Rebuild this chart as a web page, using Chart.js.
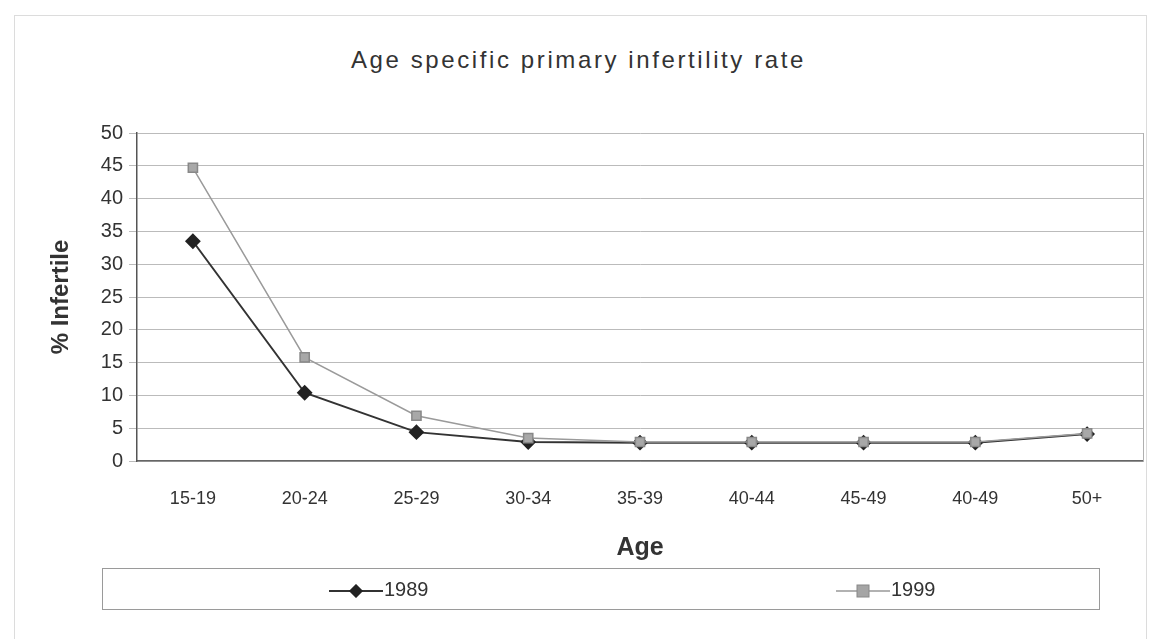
<!DOCTYPE html>
<html>
<head>
<meta charset="utf-8">
<script src="https://cdn.jsdelivr.net/npm/chart.js@4.4.1/dist/chart.umd.min.js"></script>
<style>
  html,body{margin:0;padding:0;background:#fff;}
  body{width:1157px;height:639px;position:relative;overflow:hidden;font-family:"Liberation Sans",Arial,sans-serif;}
  #wrap{position:absolute;left:0;top:0;width:1157px;height:639px;}
  #frame{position:absolute;left:14px;top:15px;width:1131px;height:640px;border:1px solid #dcdcdc;}
  #title{position:absolute;left:0;top:46px;width:1157px;text-align:center;font-size:24px;letter-spacing:2.6px;color:#333;}
  #legend{position:absolute;left:102px;top:568px;width:996px;height:40px;border:1px solid #9a9a9a;}
  .item{position:absolute;top:9px;font-size:20px;color:#333;line-height:22px;}
  .item svg{vertical-align:-2px;margin-right:1px;}
</style>
</head>
<body>
<div id="frame"></div>
<div id="title">Age specific primary infertility rate</div>
<div id="wrap"><canvas id="chart" width="1157" height="639"></canvas></div>
<div id="legend">
  <span class="item" style="left:226px;"><svg width="54" height="14"><line x1="0" y1="7" x2="54" y2="7" stroke="#333" stroke-width="2"/><rect x="22" y="2" width="10" height="10" fill="#222" transform="rotate(45 27 7)"/></svg>1989</span>
  <span class="item" style="left:733px;"><svg width="54" height="14"><line x1="0" y1="7" x2="54" y2="7" stroke="#999" stroke-width="1.5"/><rect x="21" y="1" width="12" height="12" fill="#a5a5a5" stroke="#888"/></svg>1999</span>
</div>
<script>
/* ===== Data ===== */
const ageGroups = ['15-19','20-24','25-29','30-34','35-39','40-44','45-49','40-49','50+'];
const rate1989 = [33.5, 10.4, 4.4, 2.9, 2.8, 2.8, 2.8, 2.8, 4.1];
const rate1999 = [44.7, 15.8, 6.9, 3.5, 2.9, 2.9, 2.9, 2.9, 4.2];
const yTicks = [0,5,10,15,20,25,30,35,40,45,50];

/* ===== Plot frame (right edge of plot area) ===== */
const plotFrame = {
  id:'plotFrame',
  beforeDatasetsDraw(chart){
    const a = chart.chartArea, ctx = chart.ctx;
    ctx.save();
    ctx.strokeStyle = '#b0b0b0'; ctx.lineWidth = 1;
    ctx.beginPath(); ctx.moveTo(a.right+0.5, a.top); ctx.lineTo(a.right+0.5, a.bottom); ctx.stroke();
    ctx.restore();
  }
};

const FONT = '"Liberation Sans", Arial';

new Chart(document.getElementById('chart'), {
  type:'line',
  data:{
    labels: ageGroups,
    datasets:[
      { label:'1999', data:rate1999, borderColor:'#9a9a9a', backgroundColor:'#a5a5a5', borderWidth:1.5, order:0,
        pointStyle:'rect', pointRadius:6.5, pointBorderColor:'#888', pointBackgroundColor:'#a8a8a8', tension:0 },
      { label:'1989', data:rate1989, borderColor:'#333', backgroundColor:'#222', borderWidth:2, order:1,
        pointStyle:'rectRot', pointRadius:6.5, pointBorderColor:'#222', pointBackgroundColor:'#222', tension:0 }
    ]
  },
  options:{
    responsive:false, animation:false,
    layout:{ padding:{ left:0, right:14, top:133, bottom:0 } },
    plugins:{ legend:{ display:false }, tooltip:{ enabled:false }, title:{ display:false } },
    scales:{
      x:{
        offset:true,
        grid:{ display:false, drawTicks:false },
        border:{ display:true, color:'#666', width:1.5 },
        ticks:{ color:'#333', padding:27, font:{ family:FONT, size:18 } },
        title:{ display:true, text:'Age', color:'#333', font:{ family:FONT, size:25, weight:'bold' }, padding:{ top:76, bottom:76 } },
        afterFit(s){ s.height = 178; }
      },
      y:{
        min:0, max:50,
        afterBuildTicks(s){ s.ticks = yTicks.map(v=>({value:v})); },
        grid:{ color:'#bbb', lineWidth:1, tickLength:8 },
        border:{ display:true, color:'#555', width:1.5 },
        ticks:{ color:'#333', padding:6, font:{ family:FONT, size:20 } },
        title:{ display:true, text:'% Infertile', color:'#333', font:{ family:FONT, size:24, weight:'bold' }, padding:{ top:47, bottom:47 } },
        afterFit(s){ s.width = 137; }
      }
    }
  },
  plugins:[plotFrame]
});
</script>
</body>
</html>
